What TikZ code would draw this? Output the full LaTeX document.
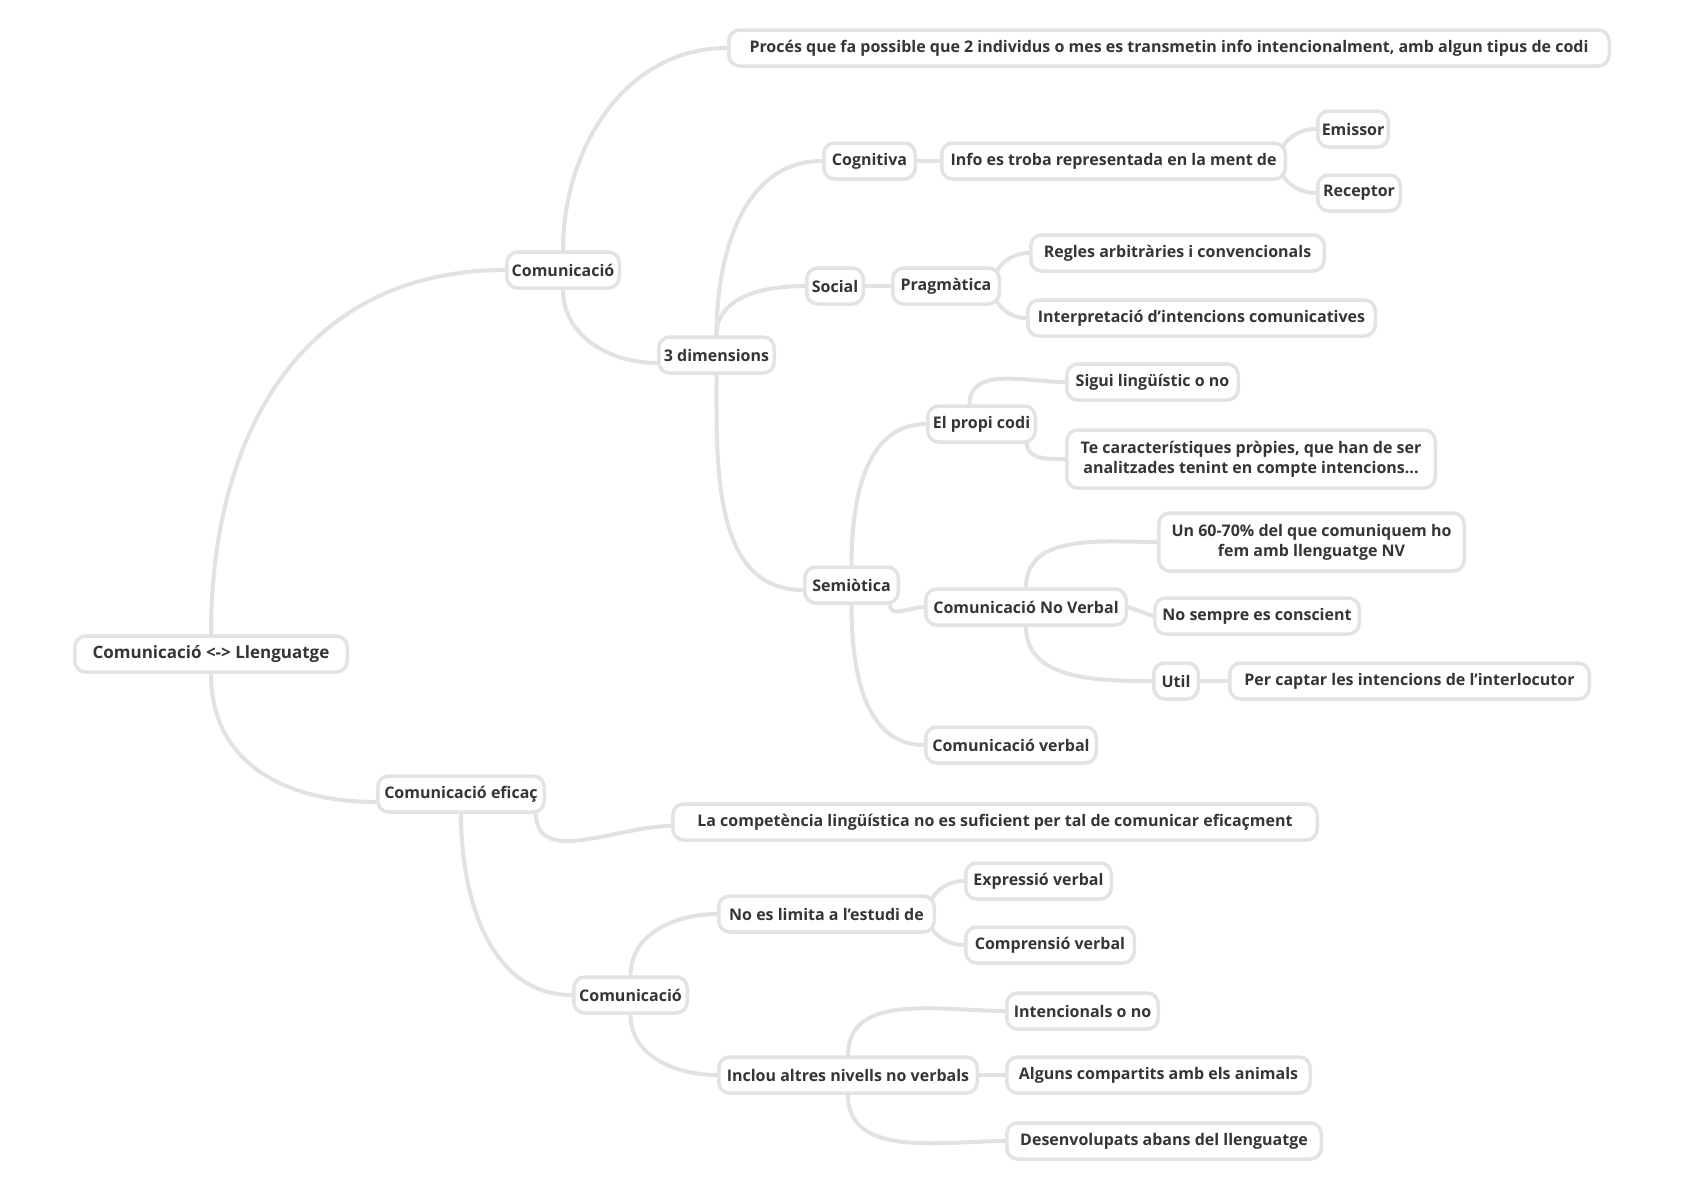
\documentclass[tikz,border=0pt]{standalone}
\usepackage{fontspec}
\setmainfont{Open Sans}
\usetikzlibrary{backgrounds}
\definecolor{edgec}{HTML}{E2E2E2}
\definecolor{boxc}{HTML}{E3E3E3}
\definecolor{txtc}{HTML}{353535}
\tikzset{
  box/.style={draw=boxc, line width=3.5pt, fill=white, rounded corners=11pt,
    inner xsep=4pt, inner ysep=4pt, minimum height=36pt, anchor=west,
    font=\fontsize{16}{20}\selectfont\bfseries, text=txtc, align=center},
  mw/.style={minimum width=#1pt-3.5pt},
  two/.style={minimum height=58pt},
  link/.style={draw=edgec, line width=4pt, line cap=round},
  up/.style={out=90,in=180},
  dn/.style={out=-90,in=180}
}
\begin{document}
\begin{tikzpicture}[x=1pt,y=-1pt]
\useasboundingbox (0,0) rectangle (1684,1191);
\node[box,mw=276,font=\fontsize{17}{20}\selectfont\bfseries] (root) at (73,654) {Comunicació <-> Llenguatge};
\node[box,mw=116] (com1) at (505,270) {Comunicació};
\node[box,mw=884] (proc) at (727,48) {Procés que fa possible que 2 individus o mes es transmetin info intencionalment, amb algun tipus de codi};
\node[box,mw=119] (dim) at (657,355) {3 dimensions};
\node[box,mw=95] (cog) at (822,161) {Cognitiva};
\node[box,mw=347] (info) at (940,161) {Info es troba representada en la ment de};
\node[box,mw=74] (emi) at (1316,129) {Emissor};
\node[box,mw=86] (rec) at (1316,193) {Receptor};
\node[box,mw=60] (soc) at (805,286) {Social};
\node[box,mw=110] (prag) at (891,286) {Pragmàtica};
\node[box,mw=297] (reg) at (1029,253) {Regles arbitràries i convencionals};
\node[box,mw=351] (intp) at (1026,318) {Interpretació d'intencions comunicatives};
\node[box,mw=97] (sem) at (803,585) {Semiòtica};
\node[box,mw=111] (codi) at (926,424) {El propi codi};
\node[box,mw=175] (sig) at (1065,382) {Sigui lingüístic o no};
\node[box,mw=372,two] (te) at (1065,459) {Te característiques pròpies, que han de ser\\analitzades tenint en compte intencions...};
\node[box,mw=204] (cnv) at (924,607) {Comunicació No Verbal};
\node[box,mw=309,two] (un) at (1157,542) {Un 60-70\% del que comuniquem ho\\fem amb llenguatge NV};
\node[box,mw=208] (nos) at (1153,616) {No sempre es conscient};
\node[box,mw=48] (util) at (1152,681) {Util};
\node[box,mw=363] (per) at (1228,681) {Per captar les intencions de l'interlocutor};
\node[box,mw=174] (cver) at (924,745) {Comunicació verbal};
\node[box,mw=170] (efi) at (376,794) {Comunicació eficaç};
\node[box,mw=648] (comp) at (671,822) {La competència lingüística no es suficient per tal de comunicar eficaçment};
\node[box,mw=117] (com2) at (572,995) {Comunicació};
\node[box,mw=219] (nol) at (717,914) {No es limita a l'estudi de};
\node[box,mw=149] (expr) at (964,881) {Expressió verbal};
\node[box,mw=172] (compr) at (964,945) {Comprensió verbal};
\node[box,mw=262] (incl) at (717,1075) {Inclou altres nivells no verbals};
\node[box,mw=155] (inte) at (1005,1011) {Intencionals o no};
\node[box,mw=307] (alg) at (1005,1075) {Alguns compartits amb els animals};
\node[box,mw=318] (des) at (1005,1141) {Desenvolupats abans del llenguatge};
\begin{pgfonlayer}{background}
\fill[white] (0,0) rectangle (1684,1191);
\draw[link] (root.north) to[up,looseness=1.1] (com1.west);
\draw[link] (root.south) to[dn,looseness=1.1] ([yshift=-8pt]efi.west);
\draw[link] (com1.north) to[up] (proc.west);
\draw[link] (com1.south) to[dn] ([yshift=-8pt]dim.west);
\draw[link] (dim.north) to[up] (cog.west);
\draw[link] (dim.north) to[up] (soc.west);
\draw[link] (dim.south) to[dn] ([yshift=-5pt]sem.west);
\draw[link] (cog.east) -- (info.west);
\draw[link] ([xshift=-8pt]info.east) to[up] (emi.west);
\draw[link] ([xshift=-8pt]info.east) to[dn] (rec.west);
\draw[link] (soc.east) -- (prag.west);
\draw[link] ([xshift=-8pt]prag.east) to[up] (reg.west);
\draw[link] ([xshift=-8pt]prag.east) to[dn] (intp.west);
\draw[link] (sem.north) to[up] (codi.west);
\draw[link] ([xshift=-10pt]sem.south east) to[dn] (cnv.west);
\draw[link] (sem.south) to[dn] (cver.west);
\draw[link] ([xshift=-12pt]codi.north) to[up] (sig.west);
\draw[link] ([xshift=-10pt]codi.south east) to[dn] (te.west);
\draw[link] (cnv.north) to[up] (un.west);
\draw[link] (cnv.east) -- (nos.west);
\draw[link] (cnv.south) to[dn] (util.west);
\draw[link] (util.east) -- (per.west);
\draw[link] ([xshift=-10pt]efi.south east) to[dn] ([yshift=-4pt]comp.west);
\draw[link] (efi.south) to[dn] (com2.west);
\draw[link] (com2.north) to[up] (nol.west);
\draw[link] (com2.south) to[dn] (incl.west);
\draw[link] ([xshift=-8pt]nol.east) to[up] (expr.west);
\draw[link] ([xshift=-8pt]nol.east) to[dn] (compr.west);
\draw[link] (incl.north) to[up] (inte.west);
\draw[link] (incl.east) -- (alg.west);
\draw[link] (incl.south) to[dn] (des.west);
\end{pgfonlayer}
\end{tikzpicture}
\end{document}
